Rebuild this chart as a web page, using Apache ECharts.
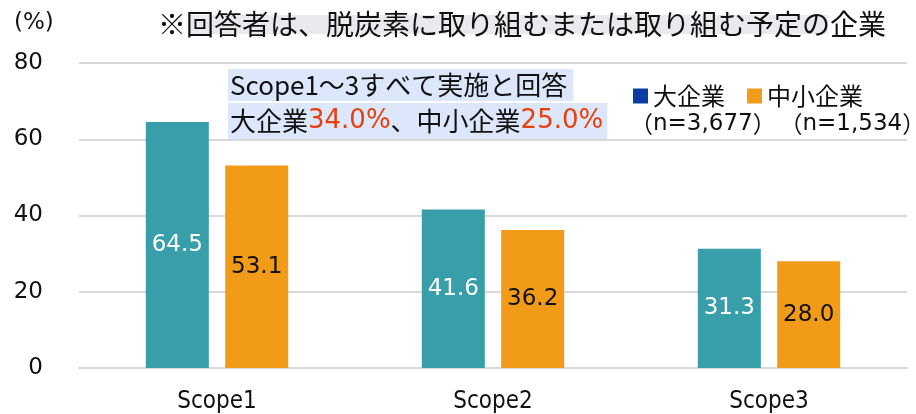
<!DOCTYPE html>
<html>
<head>
<meta charset="utf-8">
<script src="https://cdn.jsdelivr.net/npm/echarts@6/dist/echarts.min.js"></script>
<style>
  html, body { margin: 0; padding: 0; background: #ffffff; }
  #chart { width: 916px; height: 414px; }
</style>
</head>
<body>
<div id="chart"></div>
<script>
// Share of companies (%) working on each emissions scope
const categories = ['Scope1', 'Scope2', 'Scope3'];
const largeFirms = [64.5, 41.6, 31.3];   // 大企業
const smeFirms = [53.1, 36.2, 28.0];     // 中小企業
const seriesNames = ['大企業', '中小企業'];
const sampleSizes = ['n=3,677', 'n=1,534'];
const yTicks = { min: 0, max: 80, interval: 20 };
const noteText = '※回答者は、脱炭素に取り組むまたは取り組む予定の企業';
const allScopesLine1 = 'Scope1～3すべて実施と回答';
const allScopesLarge = '34.0%';
const allScopesSme = '25.0%';

const JP = '"Noto Sans CJK JP", sans-serif';
const NUM = 'DejaVu Sans, sans-serif';
const TEAL = '#389ea9';
const ORANGE = '#f29b19';
const LEGEND_BLUE = '#0a3ea3';
const RED = '#e8400c';

const chart = echarts.init(document.getElementById('chart'), null, { renderer: 'canvas' });

chart.setOption({
  backgroundColor: '#ffffff',
  animation: false,
  grid: { left: 79, right: 9, top: 63, bottom: 46 },
  legend: {
    left: 628,
    top: 79,
    itemWidth: 15,
    itemHeight: 15,
    itemGap: 22,
    icon: 'rect',
    textStyle: { fontFamily: JP, fontSize: 24, color: '#111111' },
    data: [
      { name: seriesNames[0], itemStyle: { color: LEGEND_BLUE } },
      { name: seriesNames[1], itemStyle: { color: ORANGE } }
    ]
  },
  xAxis: {
    type: 'category',
    data: categories,
    axisLine: { lineStyle: { color: '#d9d9d9', width: 2 } },
    axisTick: { show: false },
    axisLabel: {
      margin: 22,
      fontFamily: 'DejaVu Sans Condensed, sans-serif',
      fontSize: 24,
      color: '#111111'
    }
  },
  yAxis: {
    type: 'value',
    min: yTicks.min,
    max: yTicks.max,
    interval: yTicks.interval,
    axisLine: { show: false },
    axisTick: { show: false },
    splitLine: { lineStyle: { color: '#d9d9d9', width: 2 } },
    axisLabel: { margin: 36, fontFamily: NUM, fontSize: 23, color: '#111111' }
  },
  series: [
    {
      name: seriesNames[0],
      type: 'bar',
      data: largeFirms,
      barWidth: 63,
      barGap: '26%',
      itemStyle: { color: TEAL },
      label: {
        show: true,
        position: 'inside',
        fontFamily: NUM,
        fontSize: 23,
        color: '#ffffff',
        formatter: p => p.value.toFixed(1)
      }
    },
    {
      name: seriesNames[1],
      type: 'bar',
      data: smeFirms,
      barWidth: 63,
      itemStyle: { color: ORANGE },
      label: {
        show: true,
        position: 'inside',
        fontFamily: NUM,
        fontSize: 23,
        color: '#111111',
        formatter: p => p.value.toFixed(1)
      }
    }
  ],
  graphic: [
    // unit label above the value axis
    {
      type: 'text', left: 14, top: 12,
      style: { text: '(%)', fontFamily: NUM, fontSize: 23, fill: '#111111' }
    },
    // faint highlight behind the respondent note
    {
      type: 'rect', z: 1,
      shape: { x: 188, y: 15, width: 640, height: 19 },
      style: { fill: '#e8eaee' }
    },
    {
      type: 'text', z: 2, left: 158, top: 10,
      style: { text: noteText, fontFamily: JP, fontSize: 28, fill: '#111111' }
    },
    // callout: companies doing all three scopes
    {
      type: 'text', z: 2, left: 228, top: 69,
      style: {
        text: allScopesLine1,
        fontFamily: JP, fontSize: 26, fill: '#111111', lineHeight: 32,
        backgroundColor: '#dce7fb', padding: [0, 6, 0, 2]
      }
    },
    {
      type: 'text', z: 2, left: 228, top: 103,
      style: {
        text: '大企業{r|' + allScopesLarge + '}、中小企業{r|' + allScopesSme + '}',
        fontFamily: JP, fontSize: 26, fill: '#111111', lineHeight: 36,
        backgroundColor: '#dce7fb', padding: [0, 4, 0, 2],
        rich: {
          r: { fontFamily: NUM, fontSize: 26, fill: RED, lineHeight: 36 }
        }
      }
    },
    // sample sizes under the legend
    {
      type: 'text', z: 2, left: 630, top: 113,
      style: {
        text: '（{n|' + sampleSizes[0] + '}）{s| }（{n|' + sampleSizes[1] + '}）',
        fontFamily: JP, fontSize: 23, fill: '#111111',
        rich: {
          n: { fontFamily: NUM, fontSize: 23, fill: '#111111' },
          s: { fontFamily: NUM, fontSize: 12, fill: '#111111' }
        }
      }
    }
  ]
});
</script>
</body>
</html>
